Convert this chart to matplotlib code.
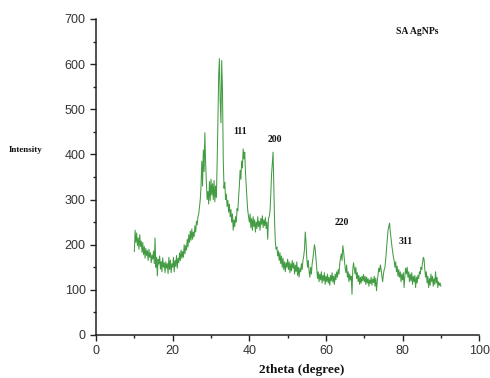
import numpy as np
import matplotlib
matplotlib.use("Agg")
import matplotlib.pyplot as plt
from matplotlib.ticker import MultipleLocator

# Intensity readings, 10 deg to 90 deg (step of 0.2 deg)
i_10_20 = [185, 232, 205, 226, 198, 215, 190, 222, 196, 208,
           183, 205, 178, 196, 170, 192, 176, 187, 165, 190,
           172, 182, 160, 177, 168, 186, 158, 215, 150, 172,
           131, 168, 157, 175, 146, 163, 140, 171, 150, 160,
           138, 162, 148, 158, 136, 172, 145, 166, 138, 158]
i_20_30 = [150, 172, 140, 165, 152, 176, 148, 170, 160, 182,
           165, 188, 170, 185, 172, 200, 180, 198, 188, 212,
           195, 222, 205, 230, 210, 235, 212, 228, 218, 242,
           228, 252, 244, 262, 268, 285, 300, 330, 385, 330,
           410, 362, 448, 380, 335, 300, 318, 290, 340, 298]
i_30_40 = [345, 310, 335, 300, 342, 295, 330, 305, 380, 470,
           575, 612, 520, 470, 608, 540, 390, 325, 338, 300,
           312, 285, 298, 272, 290, 262, 278, 250, 268, 232,
           255, 240, 262, 250, 280, 275, 305, 330, 365, 345,
           385, 370, 412, 390, 405, 360, 330, 300, 275, 262]
i_40_50 = [250, 268, 238, 258, 232, 262, 240, 255, 228, 250,
           236, 262, 240, 252, 232, 258, 245, 264, 238, 255,
           242, 260, 236, 250, 212, 258, 262, 275, 310, 355,
           380, 405, 330, 250, 205, 190, 195, 175, 186, 165,
           182, 158, 175, 150, 170, 145, 162, 140, 160, 150]
i_50_60 = [168, 145, 162, 138, 158, 142, 165, 148, 160, 135,
           155, 140, 162, 132, 150, 128, 148, 140, 158, 145,
           165, 175, 190, 228, 205, 170, 150, 165, 140, 128,
           150, 135, 158, 170, 185, 200, 190, 170, 148, 125,
           140, 118, 135, 122, 140, 115, 132, 120, 138, 112]
i_60_70 = [130, 118, 135, 115, 128, 110, 132, 120, 138, 117,
           130, 112, 135, 122, 140, 128, 145, 135, 158, 170,
           180, 165, 198, 185, 168, 150, 138, 155, 128, 140,
           118, 135, 122, 130, 90, 145, 160, 148, 135, 150,
           125, 138, 118, 132, 112, 128, 115, 130, 120, 134]
i_70_80 = [118, 130, 112, 128, 115, 125, 108, 122, 114, 128,
           110, 124, 116, 130, 108, 126, 98, 120, 135, 148,
           140, 155, 145, 130, 118, 135, 145, 150, 168, 190,
           210, 232, 240, 248, 228, 212, 198, 185, 172, 165,
           150, 162, 140, 152, 130, 145, 128, 140, 118, 135]
i_80_90 = [122, 138, 105, 132, 148, 135, 150, 128, 140, 118,
           135, 120, 138, 112, 130, 118, 132, 105, 128, 115,
           132, 125, 140, 135, 150, 145, 160, 172, 168, 145,
           128, 140, 115, 130, 105, 125, 110, 135, 118, 130,
           108, 125, 112, 140, 115, 128, 105, 118, 110, 115,
           108]

intensity = np.array(i_10_20 + i_20_30 + i_30_40 + i_40_50 +
                     i_50_60 + i_60_70 + i_70_80 + i_80_90, dtype=float)
two_theta = np.linspace(10, 90, len(intensity))

peak_labels = ["111", "200", "220", "311"]
peak_label_x = [37.6, 46.6, 64.2, 80.9]
peak_label_y = [450, 433, 250, 207]

fig = plt.figure(figsize=(4.9, 3.78), dpi=100)
ax = fig.add_axes([0.196, 0.1138, 0.782, 0.836])

ax.plot(two_theta, intensity, color="#228b22", lw=0.75, alpha=0.85)

ax.set_xlim(0, 100)
ax.set_ylim(0, 700)
ax.xaxis.set_major_locator(MultipleLocator(20))
ax.xaxis.set_minor_locator(MultipleLocator(10))
ax.yaxis.set_major_locator(MultipleLocator(100))
ax.yaxis.set_minor_locator(MultipleLocator(50))

for s in ["top", "right"]:
    ax.spines[s].set_visible(False)
for s in ["left", "bottom"]:
    ax.spines[s].set_linewidth(1.1)
    ax.spines[s].set_color("#222222")

ax.tick_params(which="major", direction="out", length=4, width=1.0,
               labelsize=9, colors="#222222", labelcolor="#333333")
ax.tick_params(which="minor", direction="out", length=2.5, width=1.0,
               colors="#222222")
for lab in ax.get_xticklabels() + ax.get_yticklabels():
    lab.set_family("Liberation Sans")

serif = "Liberation Serif"
for lbl, px, py in zip(peak_labels, peak_label_x, peak_label_y):
    ax.text(px, py, lbl, ha="center", va="center", fontsize=7,
            fontweight="bold", family=serif, color="#111111")

ax.text(83.8, 673, "SA AgNPs", ha="center", va="center", fontsize=7,
        fontweight="bold", family=serif, color="#111111")

fig.text(26 / 490, 1 - 150 / 378, "Intensity", ha="center", va="center",
         fontsize=6.5, fontweight="bold", family=serif, color="#111111")
fig.text(302 / 490, 0.004, "2theta (degree)", ha="center", va="bottom",
         fontsize=9.5, fontweight="bold", family=serif, color="#111111")

fig.savefig("out.png", dpi=100)
